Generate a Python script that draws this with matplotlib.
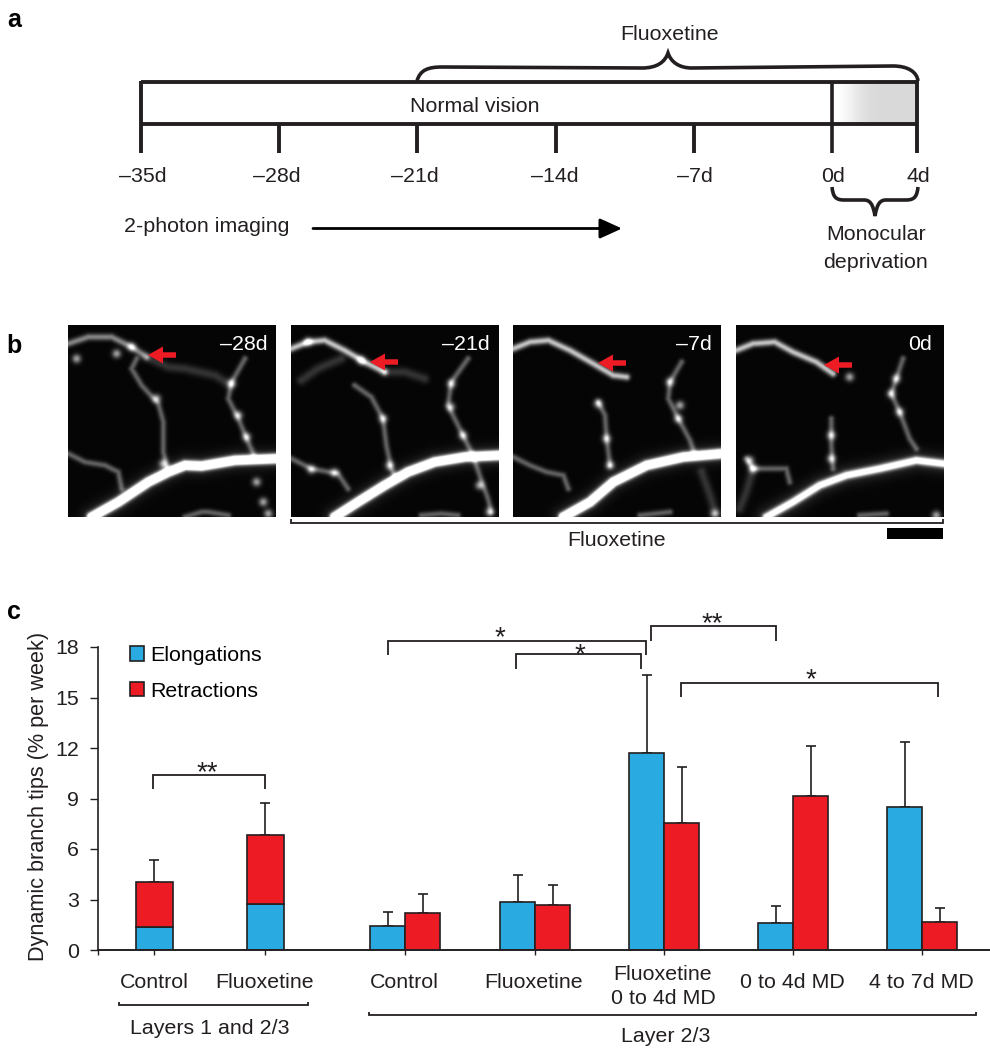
import numpy as np
import matplotlib
matplotlib.use('Agg')
import matplotlib.pyplot as plt
from matplotlib.path import Path
from matplotlib.patches import PathPatch

plt.rcParams['font.family'] = ['Liberation Sans', 'DejaVu Sans']
plt.rcParams['font.size'] = 15.4

INK = '#231f20'
BLUE = '#29abe2'
RED = '#ed1c24'

# panel a
day_labels = ['–35d', '–28d', '–21d', '–14d', '–7d', '0d', '4d']

# panel c values
stack_names = ['Control', 'Fluoxetine']
stack_elong = [1.35, 2.72]
stack_total = [4.03, 6.83]
stack_top = [5.35, 8.73]

group_names = ['Control', 'Fluoxetine', 'Fluoxetine\n0 to 4d MD', '0 to 4d MD', '4 to 7d MD']
elong = [1.42, 2.85, 11.7, 1.6, 8.5]
elong_top = [2.25, 4.45, 16.35, 2.6, 12.36]
retract = [2.2, 2.7, 7.55, 9.15, 1.66]
retract_top = [3.33, 3.86, 10.87, 12.1, 2.5]

# panel b: the four images, traced by eye (x, y in a 623 x 575 frame)
image_labels = ['–28d', '–21d', '–7d', '0d']
main_1 = [(70, 575), (150, 530), (240, 470), (300, 440), (350, 420), (400, 422), (500, 405), (623, 400)]
main_2 = [(130, 575), (200, 530), (280, 480), (350, 440), (430, 410), (520, 395), (623, 390)]
main_3 = [(150, 575), (230, 530), (300, 470), (400, 420), (510, 395), (623, 385)]
main_4 = [(90, 575), (170, 530), (250, 480), (330, 450), (430, 430), (540, 405), (623, 415)]
top_1 = [(0, 55), (60, 35), (130, 35), (190, 65), (235, 95)]
top_2 = [(0, 70), (50, 50), (100, 45), (160, 75), (220, 110), (280, 140)]
top_3 = [(0, 70), (50, 50), (105, 45), (170, 75), (240, 115), (300, 150), (340, 155)]
top_4 = [(0, 75), (50, 55), (115, 50), (170, 80), (240, 110), (290, 145)]
faint_1 = [(235, 95), (300, 125), (350, 130), (440, 150), (480, 175)]
faint_2 = [(280, 140), (340, 140), (400, 160)]
faint_3 = [(30, 165), (80, 130), (150, 100)]
side_1 = [(205, 100), (190, 130), (220, 180), (270, 235), (285, 290), (285, 380), (295, 420)]
side_2 = [(190, 180), (240, 215), (275, 280), (285, 360), (300, 430), (310, 450)]
side_3 = [(255, 230), (275, 270), (280, 340), (290, 420)]
side_4 = [(285, 280), (285, 360), (290, 430)]
right_1 = [(530, 100), (490, 170), (480, 220), (510, 280), (535, 340), (555, 385)]
right_2 = [(530, 100), (480, 170), (470, 240), (510, 320), (545, 390), (565, 450), (590, 520), (600, 560)]
right_3 = [(505, 110), (470, 170), (465, 220), (495, 280), (530, 345), (545, 390)]
right_4 = [(500, 100), (480, 160), (465, 205), (490, 260), (520, 340), (540, 370)]
low_1 = [(0, 385), (50, 410), (110, 420), (150, 440), (160, 490)]
low_2 = [(0, 400), (60, 430), (140, 445), (170, 490)]
low_3 = [(0, 395), (50, 420), (100, 440), (150, 450), (165, 490)]
low_4 = [(30, 400), (50, 430), (110, 430), (150, 430), (160, 470)]
low_4b = [(50, 430), (30, 500), (10, 550)]
edge_1 = [(350, 575), (400, 560), (420, 560), (480, 570)]
edge_2 = [(390, 570), (450, 565), (500, 570)]
edge_3 = [(380, 570), (470, 560)]
edge_3b = [(565, 440), (590, 510), (605, 560)]
edge_4 = [(370, 570), (450, 565)]
beads_1 = [(25, 100), (265, 220), (285, 415), (490, 175), (510, 270), (565, 470), (585, 530), (600, 565), (145, 85), (190, 65), (535, 335)]
beads_2 = [(60, 432), (130, 442), (480, 175), (478, 245), (515, 330), (275, 280), (295, 420), (595, 560), (210, 105), (50, 50), (565, 480)]
beads_3 = [(470, 170), (495, 280), (290, 420), (605, 565), (280, 340), (255, 235), (500, 240)]
beads_4 = [(340, 155), (480, 160), (465, 205), (490, 260), (285, 330), (285, 400), (40, 405), (50, 430), (600, 570)]

mains = [main_1, main_2, main_3, main_4]
tops = [top_1, top_2, top_3, top_4]
thin = [[side_1, right_1, low_1, edge_1],
        [side_2, right_2, low_2, edge_2],
        [side_3, right_3, low_3, edge_3],
        [side_4, right_4, low_4, edge_4]]
dim = [[faint_1], [faint_2, faint_3], [edge_3b], [low_4b]]
beads = [beads_1, beads_2, beads_3, beads_4]

fig = plt.figure(figsize=(9.9, 10.5), dpi=100)


def px_box(x0, y0, x1, y1):
    return [x0 / 990, 1 - y1 / 1050, (x1 - x0) / 990, (y1 - y0) / 1050]


gx, gy = np.meshgrid(np.arange(0, 624, 2.0), np.arange(0, 576, 2.0))


def seg_dist(points):
    d = np.full(gx.shape, 1e9)
    for (x0, y0), (x1, y1) in zip(points[:-1], points[1:]):
        dx, dy = x1 - x0, y1 - y0
        t = np.clip(((gx - x0) * dx + (gy - y0) * dy) / (dx * dx + dy * dy), 0, 1)
        d = np.minimum(d, np.hypot(gx - x0 - t * dx, gy - y0 - t * dy))
    return d


def glow(points, sigma, level):
    return level * np.exp(-(seg_dist(points) / sigma) ** 2)


# ---- panel b images ----
image_x = [68, 291, 513, 736]
for n, x0 in enumerate(image_x):
    im = fig.add_axes(px_box(x0, 325, x0 + 208, 517))
    strong = n < 3
    field = glow(mains[n], 12 if strong else 11, 2.4 if strong else 1.3)
    field += glow(mains[n], 32, 0.14)
    field += glow(tops[n], 10, 0.75 if n > 0 else 0.5)
    for tr in thin[n]:
        field += glow(tr, 9, 0.36)
    for tr in dim[n]:
        field += glow(tr, 14, 0.18)
    for b in beads[n]:
        d = np.hypot(gx - b[0], gy - b[1])
        field += 0.6 * np.exp(-(d / 13) ** 2)
    im.imshow(np.clip(field + 0.02, 0, 1), cmap='gray', vmin=0, vmax=1, extent=(0, 623, 575, 0),
              aspect='auto', interpolation='bilinear')
    im.set_xticks([])
    im.set_yticks([])
    for s in im.spines.values():
        s.set_visible(False)

# ---- panel c chart ----
ax = fig.add_axes(px_box(98, 647, 990, 950))
ax.set_xlim(98, 990)
ax.set_ylim(0, 18)
ax.patch.set_alpha(0)

stack_x = [154, 265]
group_x = [405, 535, 664, 793, 922]
bar_kw = dict(edgecolor=INK, linewidth=1.2, zorder=3)
err_kw = dict(fmt='none', ecolor=INK, elinewidth=1.2, capsize=3.4, capthick=1.2, zorder=2)

elong_bars = ax.bar(stack_x, stack_elong, width=37, color=BLUE, **bar_kw)
retract_heights = [t - e for t, e in zip(stack_total, stack_elong)]
retract_bars = ax.bar(stack_x, retract_heights, bottom=stack_elong, width=37, color=RED, **bar_kw)
ax.errorbar(stack_x, stack_total,
            yerr=[[0, 0], [t - v for t, v in zip(stack_top, stack_total)]], **err_kw)

elong_x = [x - 17.5 for x in group_x]
retract_x = [x + 17.5 for x in group_x]
ax.bar(elong_x, elong, width=35, color=BLUE, **bar_kw)
ax.bar(retract_x, retract, width=35, color=RED, **bar_kw)
ax.errorbar(elong_x, elong, yerr=[[0] * 5, [t - v for t, v in zip(elong_top, elong)]], **err_kw)
ax.errorbar(retract_x, retract, yerr=[[0] * 5, [t - v for t, v in zip(retract_top, retract)]], **err_kw)

ax.spines['top'].set_visible(False)
ax.spines['right'].set_visible(False)
ax.spines['left'].set_color(INK)
ax.spines['bottom'].set_color(INK)
ax.spines['left'].set_linewidth(1.2)
ax.spines['bottom'].set_linewidth(1.4)
ax.spines['bottom'].set_zorder(5)
ax.set_yticks(range(0, 19, 3))
ax.set_xticks([98] + stack_x + group_x)
ax.set_xticklabels([])
ax.tick_params(axis='y', length=5.8, width=1.0, color=INK, pad=8, labelcolor=INK)
ax.tick_params(axis='x', length=3.6, width=1.0, color=INK)

# ---- overlay in figure pixels for schematic parts ----
ov = fig.add_axes([0, 0, 1, 1], zorder=10)
ov.patch.set_alpha(0)
ov.axis('off')

leg = ax.legend([elong_bars, retract_bars], ['Elongations', 'Retractions'],
                frameon=False, loc='upper left', bbox_to_anchor=(130, 646),
                bbox_transform=ov.transData, borderpad=0, borderaxespad=0,
                handlelength=0.66, handleheight=0.66, handletextpad=0.28, labelspacing=0.78)


def label(x, y, s, **kw):
    kw.setdefault('ha', 'center')
    kw.setdefault('va', 'center')
    kw.setdefault('color', INK)
    ov.text(x, y + 2, s, **kw)


def stroke(xs, ys, lw=1.2, **kw):
    ov.plot(xs, ys, color=kw.pop('color', INK), lw=lw, solid_capstyle='butt',
            solid_joinstyle='miter', **kw)


def curve(verts, codes, lw=2.6):
    ov.add_patch(PathPatch(Path(verts, codes), fc='none', ec=INK, lw=lw, capstyle='butt'))


def bracket(x0, x1, y_top, y_end0, y_end1, star_x, star_y, stars):
    stroke([x0, x0, x1, x1], [y_end0, y_top, y_top, y_end1], lw=1.3)
    ov.text(star_x, star_y + 12, stars, ha='center', va='baseline', fontsize=20, color=INK)


# panel letters
label(14, 18, 'a', fontweight='bold', fontsize=18, color='black')
label(14, 344, 'b', fontweight='bold', fontsize=18, color='black')
label(14, 610, 'c', fontweight='bold', fontsize=18, color='black')

# panel a
day_x = [141, 279, 417, 556, 694, 832, 917]
ramp = np.array([1.0, 0.98, 0.95, 0.91, 0.88, 0.86, 0.85, 0.85, 0.85, 0.85, 0.85, 0.85]).reshape(1, -1)
ov.imshow(ramp, extent=(832, 917, 124, 82), cmap='gray', vmin=0, vmax=1,
          aspect='auto', interpolation='bilinear', zorder=0)
stroke([141, 917], [82, 82], lw=2.8)
stroke([141, 917], [124, 124], lw=2.8)
stroke([141, 141], [81, 153], lw=2.8)
stroke([832, 832], [82, 153], lw=2.6)
stroke([917, 917], [80, 153], lw=2.8)
for x in day_x[1:5]:
    stroke([x, x], [124, 153], lw=2.8)
label_x = [143, 277, 415, 555, 695, 833, 918]
for x, s in zip(label_x, day_labels):
    label(x, 174, s)
label(475, 105, 'Normal vision')
label(670, 32, 'Fluoxetine')
label(207, 224, '2-photon imaging')
label(876, 233, 'Monocular')
label(876, 260, 'deprivation')

C = Path.CURVE4
M = Path.MOVETO
L = Path.LINETO
curve([(417, 81), (420, 70), (428, 67), (442, 67), (642, 68),
       (657, 68), (665, 62), (668, 53), (671, 62), (679, 68), (692, 68),
       (893, 66), (908, 66), (917, 72), (918, 81)],
      [M, C, C, C, L, C, C, C, C, C, C, L, C, C, C])
curve([(832, 187), (833, 196), (835, 200), (844, 200), (864, 200),
       (870, 200), (873, 204), (875, 216), (877, 204), (880, 200), (886, 200),
       (906, 200), (915, 200), (917, 196), (918, 187)],
      [M, C, C, C, L, C, C, C, C, C, C, L, C, C, C])
ov.annotate('', xy=(622, 228.5), xytext=(313, 228.5),
            arrowprops=dict(arrowstyle='-|>,head_length=0.75,head_width=0.34', color='black',
                            lw=2.0, shrinkA=0, shrinkB=0, mutation_scale=18))

# panel b overlays
label_right = [268, 490, 712, 932]
for x, s in zip(label_right, image_labels):
    label(x, 343, s, ha='right', color='white')
tip_x = [148, 370, 598, 824]
tip_y = [355, 362, 363, 365]
for x, y in zip(tip_x, tip_y):
    ov.arrow(x + 28, y, -28, 0, width=5.5, head_width=17, head_length=15, length_includes_head=True,
             color=RED, linewidth=0, shape='full')
stroke([291, 291, 943, 943], [519, 523, 523, 519], lw=1.3)
label(617, 538, 'Fluoxetine')
ov.fill_between([887, 943], 528, 539, color='black', linewidth=0)

# panel c labels and brackets
ov.text(39, 796, 'Dynamic branch tips (% per week)', rotation=90, ha='center', va='center',
        color=INK, fontsize=15.6)
for x, s in zip(stack_x, stack_names):
    label(x, 980, s)
for x, s in zip(group_x, group_names):
    if '\n' in s:
        first, second = s.split('\n')
        label(x - 1, 972, first)
        label(x - 1, 997, second)
    else:
        label(x - 1, 980, s)
stroke([119, 119, 308, 308], [1002, 1005, 1005, 1002], lw=1.3)
label(210, 1026, 'Layers 1 and 2/3')
stroke([369, 369, 976, 976], [1012, 1015, 1015, 1012], lw=1.3)
label(666, 1035, 'Layer 2/3')

bracket(153, 265, 775, 789, 789, 207, 768, '**')
bracket(388, 646, 641, 655, 655, 500, 633, '*')
bracket(516, 641, 654, 669, 669, 580, 650, '*')
bracket(651, 776, 626, 641, 641, 712, 619, '**')
bracket(681, 938, 683, 697, 697, 811, 675, '*')

ov.set_xlim(0, 990)
ov.set_ylim(1050, 0)

fig.savefig('out.png', dpi=100)
